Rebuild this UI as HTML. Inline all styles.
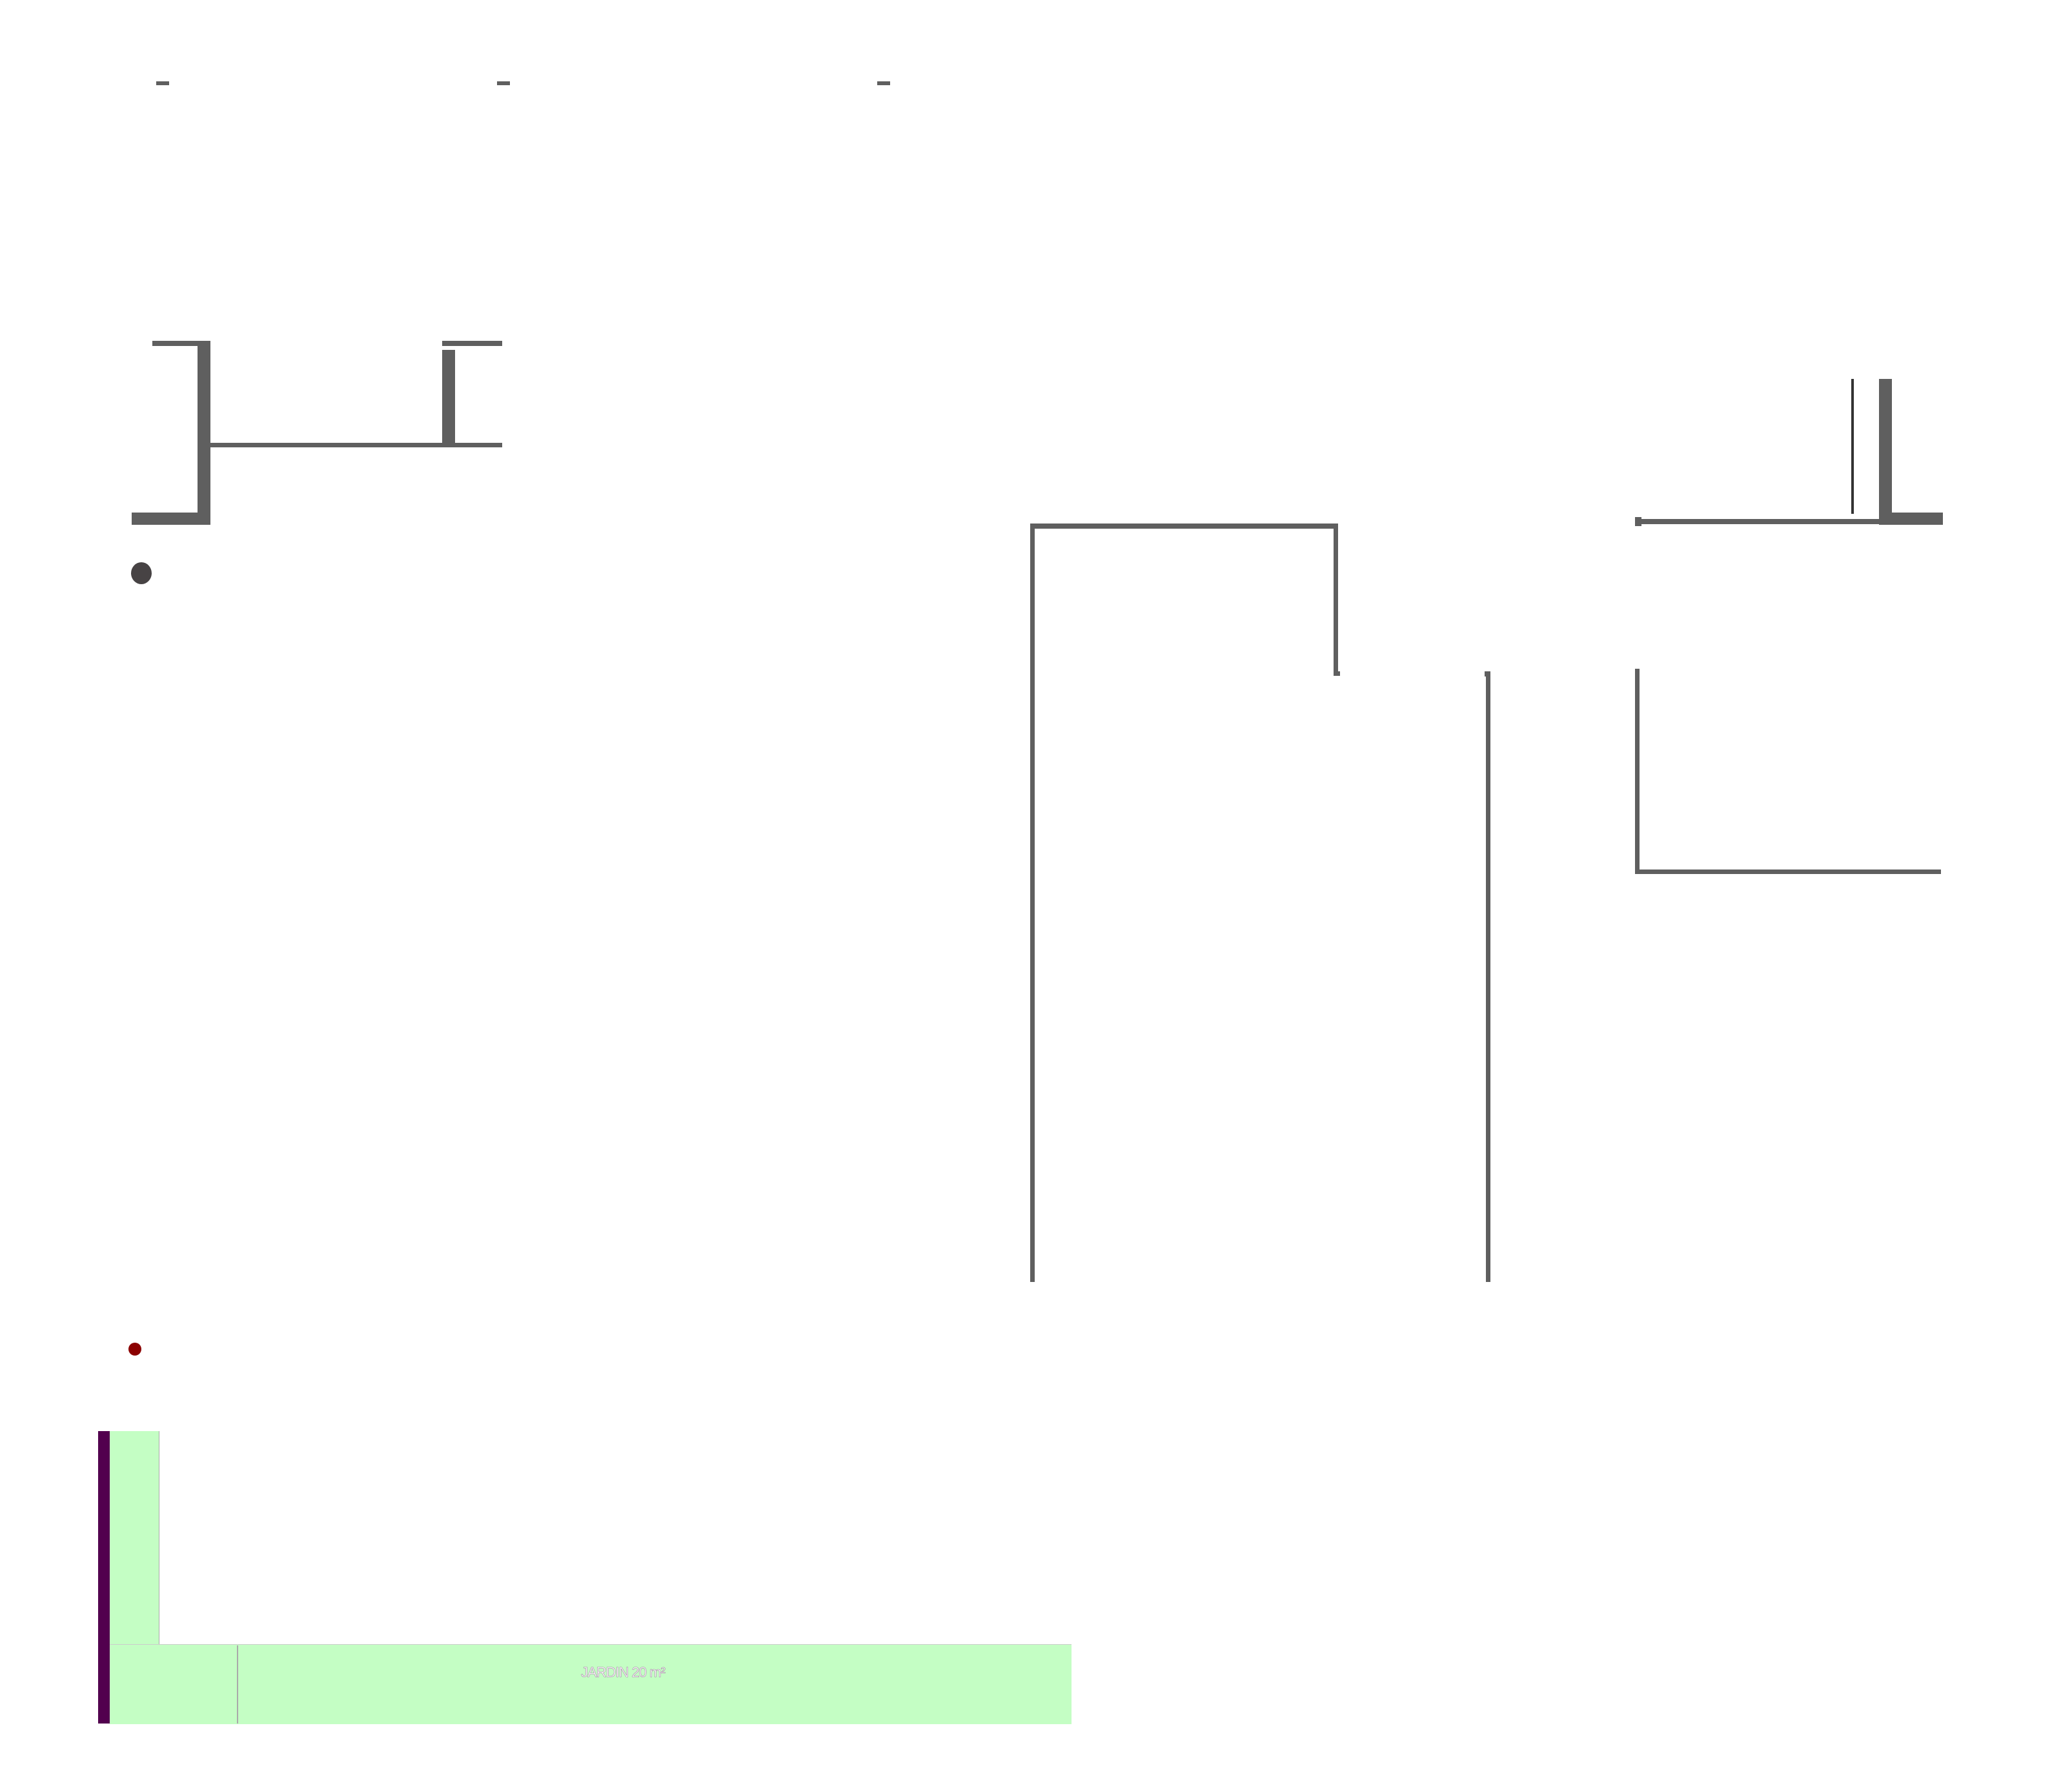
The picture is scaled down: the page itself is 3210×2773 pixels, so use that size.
<!DOCTYPE html>
<html><head><meta charset="utf-8"><style>
html,body{margin:0;padding:0;background:#fff;}
body{width:3210px;height:2773px;position:relative;overflow:hidden;font-family:"Liberation Sans",sans-serif;}
.g{position:absolute;background:#5f5f5f;}
</style></head><body>
<div class="g" style="left:242px;top:126px;width:20px;height:6px"></div>
<div class="g" style="left:770px;top:126px;width:20px;height:6px"></div>
<div class="g" style="left:1359px;top:126px;width:20px;height:6px"></div>

<div class="g" style="left:236px;top:528px;width:90px;height:8px"></div>
<div class="g" style="left:306px;top:528px;width:20px;height:285px"></div>
<div class="g" style="left:204px;top:794px;width:122px;height:19px"></div>
<div class="g" style="left:326px;top:686px;width:452px;height:7px"></div>
<div class="g" style="left:685px;top:542px;width:20px;height:146px"></div>
<div class="g" style="left:685px;top:528px;width:93px;height:8px"></div>
<div style="position:absolute;left:203px;top:871px;width:32px;height:34px;border-radius:50%;background:#474344"></div>

<div class="g" style="left:1596px;top:811px;width:477px;height:8px"></div>
<div class="g" style="left:1596px;top:811px;width:7px;height:1175px"></div>
<div class="g" style="left:2066px;top:811px;width:7px;height:236px"></div>
<div class="g" style="left:2066px;top:1040px;width:10px;height:7px"></div>
<div class="g" style="left:2300px;top:1040px;width:9px;height:8px"></div>
<div class="g" style="left:2302px;top:1040px;width:7px;height:946px"></div>

<div style="position:absolute;left:2868px;top:587px;width:4px;height:209px;background:#333"></div>
<div class="g" style="left:2911px;top:587px;width:20px;height:226px"></div>
<div class="g" style="left:2911px;top:794px;width:99px;height:19px"></div>
<div class="g" style="left:2533px;top:804px;width:380px;height:8px"></div>
<div class="g" style="left:2533px;top:801px;width:10px;height:14px"></div>

<div class="g" style="left:2533px;top:1036px;width:7px;height:318px"></div>
<div class="g" style="left:2533px;top:1347px;width:474px;height:7px"></div>

<div style="position:absolute;left:199px;top:2080px;width:20px;height:20px;border-radius:50%;background:#8b0000"></div>

<div style="position:absolute;left:152px;top:2217px;width:18px;height:453px;background:#52004e"></div>
<div style="position:absolute;left:170px;top:2217px;width:77px;height:453px;background:#c4fec4;border-right:1px solid #aaa;box-sizing:border-box"></div>
<div style="position:absolute;left:170px;top:2547px;width:1490px;height:123px;background:#c4fec4;border-top:1px solid #ccc"></div>
<div style="position:absolute;left:367px;top:2549px;width:2px;height:121px;background:#aaa"></div>
<div style="position:absolute;left:900px;top:2578px;width:130px;text-align:center;font-size:22px;color:#fff;-webkit-text-stroke:0.6px #a080a0;letter-spacing:-1px">JARDIN 20 m²</div>
</body></html>
